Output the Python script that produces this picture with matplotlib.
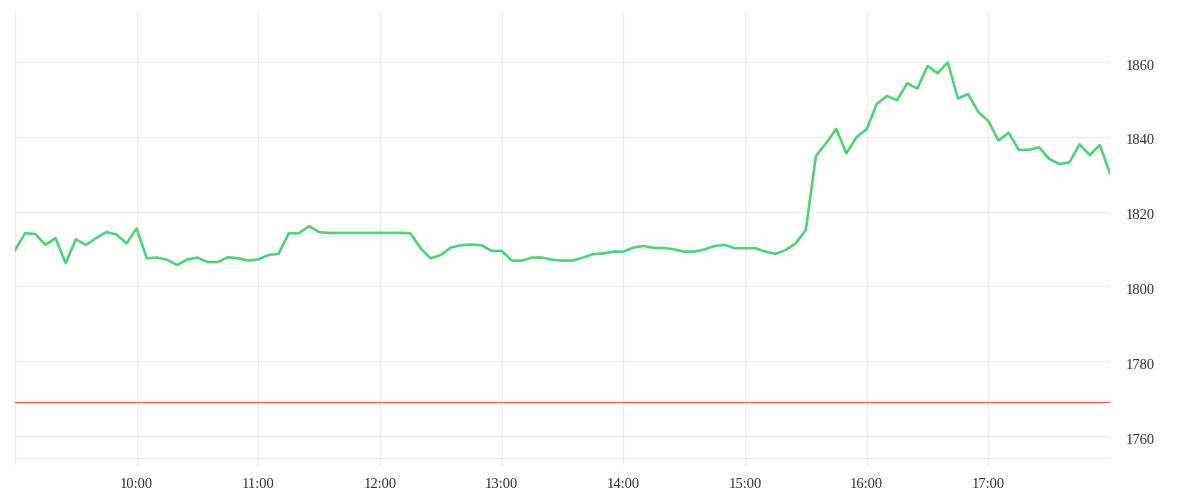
import matplotlib
matplotlib.use("Agg")
import matplotlib.pyplot as plt
import matplotlib.transforms as mtransforms
import pandas as pd

# 5-minute prices, 09:00 - 18:00
prices = [
    1809.7, 1814.2, 1814.0, 1811.1, 1812.9, 1806.2, 1812.6, 1811.1, 1812.9, 1814.5,
    1813.9, 1811.5, 1815.5, 1807.5, 1807.7, 1807.1, 1805.7, 1807.2, 1807.7, 1806.5,
    1806.5, 1807.8, 1807.5, 1806.9, 1807.2, 1808.4, 1808.7, 1814.2, 1814.2, 1816.1,
    1814.5, 1814.3, 1814.3, 1814.3, 1814.3, 1814.3, 1814.3, 1814.3, 1814.3, 1814.2,
    1810.2, 1807.5, 1808.4, 1810.4, 1811.0, 1811.2, 1811.0, 1809.5, 1809.5, 1806.9,
    1806.9, 1807.7, 1807.7, 1807.1, 1806.9, 1806.9, 1807.7, 1808.6, 1808.8, 1809.3,
    1809.3, 1810.4, 1810.8, 1810.3, 1810.3, 1809.9, 1809.3, 1809.3, 1809.9, 1810.8,
    1811.1, 1810.2, 1810.2, 1810.2, 1809.3, 1808.7, 1809.7, 1811.5, 1815.1, 1834.9,
    1838.3, 1842.1, 1835.6, 1839.9, 1842.0, 1848.8, 1850.9, 1849.8, 1854.3, 1852.9,
    1858.9, 1857.0, 1859.9, 1850.3, 1851.4, 1846.7, 1844.2, 1839.0, 1841.1, 1836.5,
    1836.5, 1837.2, 1834.1, 1832.7, 1833.2, 1838.0, 1835.1, 1837.8, 1830.2,
]
times = pd.date_range("2024-01-01 09:00", "2024-01-01 18:00", freq="5min")
ref_price = 1769.2

y_ticks = [1760, 1780, 1800, 1820, 1840, 1860]
hour_ticks = pd.date_range("2024-01-01 09:00", "2024-01-01 18:00", freq="1h")
hour_labels = ["", "10:00", "11:00", "12:00", "13:00", "14:00", "15:00", "16:00", "17:00", ""]

grid_c = "#ececec"
text_c = "#333333"
plt.rcParams["font.family"] = ["Liberation Serif", "DejaVu Serif"]

fig = plt.figure(figsize=(12, 5), dpi=100, facecolor="white")
ax = fig.add_axes([15 / 1200, 34 / 500, 1095 / 1200, 454 / 500])

ax.plot(times, prices, color="#50d27a", lw=1.9, zorder=3)
ax.axhline(ref_price, color="#f2545b", lw=0.9, zorder=2)

ax.set_xlim(hour_ticks[0], hour_ticks[-1])
ax.set_ylim(1751.98, 1873.37)
ax.set_xticks(hour_ticks)
ax.xaxis.set_major_formatter(matplotlib.ticker.FixedFormatter(hour_labels))
ax.set_yticks(y_ticks)

ax.grid(True, color=grid_c, lw=0.8)
ax.axhline(1754.1, color=grid_c, lw=0.8, zorder=1)
for s in ax.spines.values():
    s.set_visible(False)

ax.yaxis.tick_right()
ax.tick_params(axis="both", length=0, colors=text_c, labelsize=10.5)
ax.tick_params(axis="y", pad=11)
ax.tick_params(axis="x", pad=9)

# nudge y labels a little below their grid lines
shift = mtransforms.ScaledTranslation(0, -2.5 / 100, fig.dpi_scale_trans)
for lab in ax.get_yticklabels():
    lab.set_transform(lab.get_transform() + shift)

fig.savefig("out.png", dpi=100, facecolor="white")
